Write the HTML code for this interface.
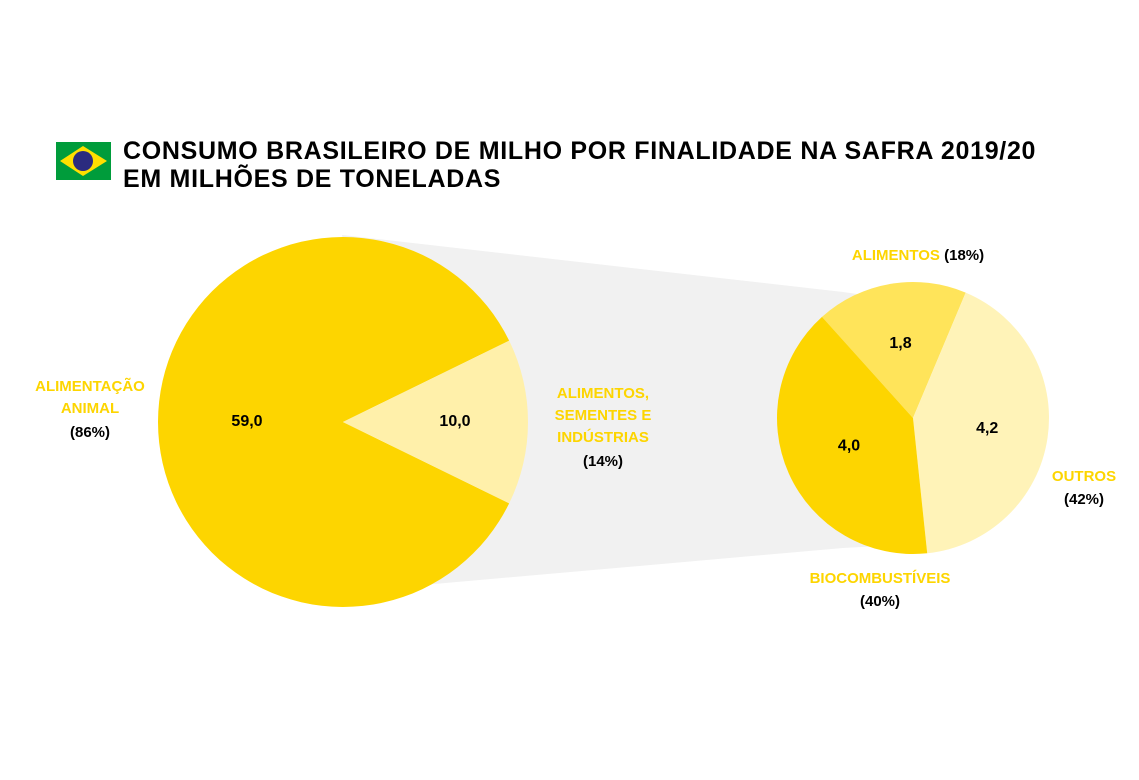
<!DOCTYPE html>
<html><head><meta charset="utf-8"><style>
body{margin:0;background:#fff;width:1139px;height:775px;overflow:hidden;font-family:"Liberation Sans",sans-serif}
svg text{font-family:"Liberation Sans",sans-serif;font-weight:bold}
</style></head><body>
<svg width="1139" height="775">
<g>
<rect x="56" y="142" width="55" height="38" fill="#009c3b"/>
<polygon points="60,161 83,146 107,161 83,176" fill="#ffdf00"/>
<circle cx="83" cy="161" r="10" fill="#2b2b7f"/>
</g>
<text x="123" y="159" font-size="25" letter-spacing="0.7" fill="#000">CONSUMO BRASILEIRO DE MILHO POR FINALIDADE NA SAFRA 2019/20</text>
<text x="123" y="187" font-size="25" letter-spacing="0.7" fill="#000">EM MILHÕES DE TONELADAS</text>
<polygon points="342,235 843,292 900,300 900,545 843,548 423,585" fill="#f1f1f1"/>
<g id="main"></g><g id="sub"></g>
<g font-size="15" text-anchor="middle">
<text x="90" y="391" fill="#fdd500">ALIMENTAÇÃO</text>
<text x="90" y="413" fill="#fdd500">ANIMAL</text>
<text x="90" y="437" fill="#000">(86%)</text>
<text x="603" y="398" fill="#fdd500">ALIMENTOS,</text>
<text x="603" y="420" fill="#fdd500">SEMENTES E</text>
<text x="603" y="442" fill="#fdd500">INDÚSTRIAS</text>
<text x="603" y="466" fill="#000">(14%)</text>
<text x="918" y="260"><tspan fill="#fdd500">ALIMENTOS</tspan><tspan fill="#000"> (18%)</tspan></text>
<text x="1084" y="481" fill="#fdd500">OUTROS</text>
<text x="1084" y="504" fill="#000">(42%)</text>
<text x="880" y="583" fill="#fdd500">BIOCOMBUSTÍVEIS</text>
<text x="880" y="606" fill="#000">(40%)</text>
</g>
</svg>
<script>
const mainCats=["Alimentação animal","Alimentos, sementes e indústrias"];
const mainVals=[59.0,10.0];
const mainLabels=["59,0","10,0"];
const subCats=["Alimentos","Outros","Biocombustíveis"];
const subVals=[1.8,4.2,4.0];
const subLabels=["1,8","4,2","4,0"];
const NS="http://www.w3.org/2000/svg";
function pie(g,vals,labels,cx,cy,r,start,colors,lr,names){
  const tot=vals.reduce((a,b)=>a+b,0);let a=start;
  vals.forEach((v,i)=>{
    const sw=v/tot*2*Math.PI,a2=a+sw;
    const p=document.createElementNS(NS,'path');
    const x1=cx+r*Math.sin(a),y1=cy-r*Math.cos(a),x2=cx+r*Math.sin(a2),y2=cy-r*Math.cos(a2);
    p.setAttribute('d',`M${cx},${cy}L${x1},${y1}A${r},${r} 0 ${sw>Math.PI?1:0} 1 ${x2},${y2}Z`);
    p.setAttribute('fill',colors[i]);
    
    
    g.appendChild(p);
    const m=a+sw/2,t=document.createElementNS(NS,'text');
    t.setAttribute('x',cx+lr[i]*Math.sin(m));t.setAttribute('y',cy-lr[i]*Math.cos(m)+4);
    t.setAttribute('text-anchor','middle');t.setAttribute('font-size','16');
    t.textContent=labels[i];
    
    
    g.appendChild(t);a=a2;
  });
}
const mainStart=Math.PI/2+mainVals[1]/(mainVals[0]+mainVals[1])*Math.PI;
pie(document.getElementById('main'),mainVals,mainLabels,343,422,185,mainStart,["#fdd500","#fff0aa"],[96,112],["animal","alimentos-sementes"]);
pie(document.getElementById('sub'),subVals,subLabels,913,418,136,-42*Math.PI/180,["#ffe45a","#fff3b8","#fdd500"],[75,75,70],["alimentos","outros","biocombustiveis"]);
</script>
</body></html>
